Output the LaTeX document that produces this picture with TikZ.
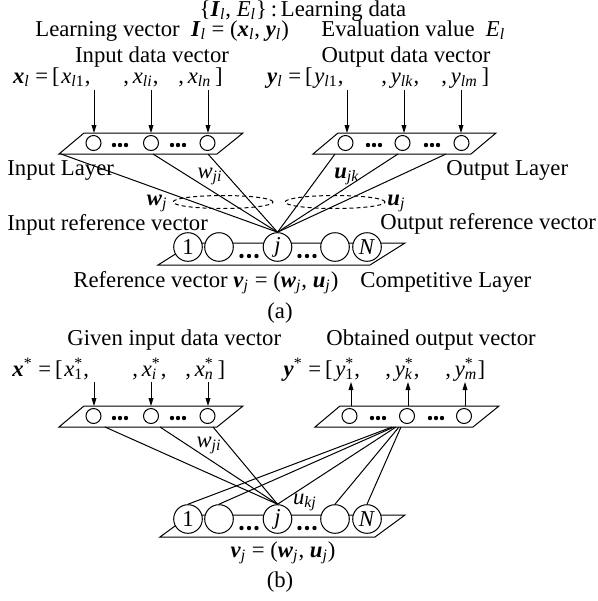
\documentclass[tikz,border=0pt]{standalone}
\usepackage{fontspec}
\setmainfont{Liberation Serif}
\usetikzlibrary{arrows.meta}
\newcommand\bi[1]{\textbf{\textit{#1}}}
\newcommand\sbs[1]{\textsubscript{\textit{#1}}}
\newcommand\stk[2]{\rlap{\textsubscript{#1}}\textsuperscript{#2}}
\newcommand\tridots[3]{\fill (#1-#3,#2) circle (1.1pt) (#1,#2) circle (1.1pt) (#1+#3,#2) circle (1.1pt);}
\begin{document}
\begin{tikzpicture}[x=0.5pt,y=-0.5pt,
  every node/.style={font=\fontsize{11.35pt}{13pt}\selectfont, inner sep=0pt},
  lay/.style={line width=0.5pt},
  conn/.style={line width=0.5pt},
  lcirc/.style={circle, draw, line width=0.5pt, fill=white, minimum size=7.5pt, inner sep=0pt},
  ccirc/.style={circle, draw, line width=0.5pt, fill=white, minimum size=14.3pt, inner sep=0pt},
  arr/.style={-{Triangle[length=4pt,width=2.4pt]}, line width=0.5pt},
  ell/.style={dash pattern=on 2pt off 1.5pt, line width=0.5pt},
  tl/.style={anchor=base west},
  tr/.style={anchor=base east},
  tc/.style={anchor=base}]
\useasboundingbox (0,0) rectangle (598,601);

% ---------------- (a) texts ----------------
\node[tc] (title) at (303,16) {\{\bi{I}\sbs{l}, \textit{E}\sbs{l}\}\,:\,Learning data};
\node[tl] (lv) at (35,36) {Learning vector \ \bi{I}\sbs{l} = (\bi{x}\sbs{l}, \bi{y}\sbs{l})};
\node[tl] (ev) at (321,36) {Evaluation value \ \textit{E}\sbs{l}};
\node[tc] (idv) at (152,62) {Input data vector};
\node[tc] (odv) at (406,62) {Output data vector};

\node[tr] (xl0) at (60,83) {\bi{x}\sbs{l} =\,[};
\node[tl] (xl1) at (61,83) {\textit{x}\textsubscript{\textit{l}1},};
\node[tl] (xl2) at (123,83) {,\,\textit{x}\sbs{li},};
\node[tl] (xl3) at (178,83) {,\,\textit{x}\sbs{ln}\,]};
\node[tr] (yl0) at (313,83) {\bi{y}\sbs{l} =\,[};
\node[tl] (yl1) at (314,83) {\textit{y}\textsubscript{\textit{l}1},};
\node[tl] (yl2) at (381,83) {,\,\textit{y}\sbs{lk},};
\node[tl] (yl3) at (441,83) {,\,\textit{y}\sbs{lm}\,]};

% arrows (a)
\foreach \x [count=\i] in {94,151,208} {
  \coordinate (ai\i) at (\x,90); \coordinate (bi\i) at (\x,133);
  \draw[arr] (ai\i) -- (bi\i);}
\foreach \x [count=\i] in {347,404,461} {
  \coordinate (ao\i) at (\x,90); \coordinate (bo\i) at (\x,133);
  \draw[arr] (ao\i) -- (bo\i);}

% input layer (a)
\coordinate (ia-bl) at (59,154); \coordinate (ia-br) at (217,154);
\coordinate (ia-tr) at (243,133); \coordinate (ia-tl) at (84,133);
\draw[lay] (ia-bl) -- (ia-br) -- (ia-tr) -- (ia-tl) -- cycle;
% output layer (a)
\coordinate (oa-bl) at (313,154); \coordinate (oa-br) at (471,154);
\coordinate (oa-tr) at (496,133); \coordinate (oa-tl) at (338,133);
\draw[lay] (oa-bl) -- (oa-br) -- (oa-tr) -- (oa-tl) -- cycle;

\node[lcirc] (ia1) at (93.5,143) {};
\node[lcirc] (ia2) at (151,143) {};
\node[lcirc] (ia3) at (207.5,143) {};
\node[lcirc] (oa1) at (345.5,143) {};
\node[lcirc] (oa2) at (402.5,143) {};
\node[lcirc] (oa3) at (461.5,143) {};
\tridots{120}{145}{6}
\tridots{178}{145}{6}
\tridots{374}{145}{6}
\tridots{432}{145}{6}

% competitive layer (a)
\coordinate (ca-bl) at (158,265); \coordinate (ca-br) at (370,265);
\coordinate (ca-tr) at (405,243); \coordinate (ca-tl) at (193,243);
\draw[lay] (ca-bl) -- (ca-br) -- (ca-tr) -- (ca-tl) -- cycle;
\tridots{249}{256}{7.5}
\tridots{307}{256}{7.5}
\node[ccirc] (ca1) at (188,247) {1};
\node[ccirc] (ca2) at (219,247) {};
\node[ccirc] (caj) at (277.5,247) {\textit{j}};
\node[ccirc] (ca4) at (335,247) {};
\node[ccirc] (caN) at (367,247) {\textit{N}};

% connections (a)
\coordinate (ib1) at (61,154); \coordinate (ib2) at (153,154); \coordinate (ib3) at (208,154);
\coordinate (ob1) at (335,154); \coordinate (ob2) at (398,154); \coordinate (ob3) at (446,154);
\foreach \c in {ib1,ib2,ib3,ob1,ob2,ob3} \draw[conn] (\c) -- (caj.north);

% dashed ellipses
\draw[ell] (223,202) ellipse [x radius=25pt, y radius=3.25pt];
\draw[ell] (335,202) ellipse [x radius=25pt, y radius=3.25pt];

\node[tl] (inl) at (7,175) {Input Layer};
\node[tl] (outl) at (446,175) {Output Layer};
\node[tc] (wji) at (210,178) {\textit{w}\sbs{ji}};
\node[tc] (ujk) at (347,178) {\bi{u}\sbs{jk}};
\node[tr] (wj) at (168,205) {\bi{w}\sbs{j}};
\node[tl] (uj) at (387,205) {\bi{u}\sbs{j}};
\node[tl] (irv) at (7,230) {Input reference vector};
\node[tl] (orv) at (380,229) {Output reference vector};
\node[tl] (rv) at (73,287) {Reference vector \bi{v}\sbs{j} = (\bi{w}\sbs{j}, \bi{u}\sbs{j})};
\node[tl] (cl) at (360,287) {Competitive Layer};
\node[tc] (la) at (280,318) {(a)};

% ---------------- (b) ----------------
\node[tl] (gidv) at (67,345) {Given input data vector};
\node[tl] (oov) at (326,345) {Obtained output vector};

\node[tr] (xs0) at (63,376) {\bi{x}\textsuperscript{*} =\,[};
\node[tl] (xs1) at (64,376) {\textit{x}\stk{1}{*},};
\node[tl] (xs2) at (132,376) {,\,\textit{x}\stk{\textit{i}}{*},};
\node[tl] (xs3) at (185,376) {,\,\textit{x}\stk{\textit{n}}{*}\,]};
\node[tr] (ys0) at (333,376) {\bi{y}\textsuperscript{*} =\,[};
\node[tl] (ys1) at (335,376) {\textit{y}\stk{1}{*},};
\node[tl] (ys2) at (385,376) {,\,\textit{y}\stk{\textit{k}}{*},};
\node[tl] (ys3) at (445,376) {,\,\textit{y}\stk{\textit{m}}{*}\,]};

\foreach \x [count=\i] in {94,151,208} {
  \coordinate (bai\i) at (\x,382); \coordinate (bbi\i) at (\x,406);
  \draw[arr] (bai\i) -- (bbi\i);}
\foreach \x [count=\i] in {351,408,465} {
  \coordinate (bao\i) at (\x,382); \coordinate (bbo\i) at (\x,406);
  \draw[arr] (bbo\i) -- (bao\i);}

\coordinate (ib-bl) at (59,427); \coordinate (ib-br) at (217,427);
\coordinate (ib-tr) at (243,406); \coordinate (ib-tl) at (84,406);
\draw[lay] (ib-bl) -- (ib-br) -- (ib-tr) -- (ib-tl) -- cycle;
\coordinate (ob-bl) at (315,427); \coordinate (ob-br) at (473,427);
\coordinate (ob-tr) at (499,406); \coordinate (ob-tl) at (340,406);
\draw[lay] (ob-bl) -- (ob-br) -- (ob-tr) -- (ob-tl) -- cycle;

\node[lcirc] (ib1c) at (93.5,416) {};
\node[lcirc] (ib2c) at (151,416) {};
\node[lcirc] (ib3c) at (207.5,416) {};
\node[lcirc] (ob1c) at (349.5,416) {};
\node[lcirc] (ob2c) at (407,416) {};
\node[lcirc] (ob3c) at (464,416) {};
\tridots{120}{418}{6}
\tridots{178}{418}{6}
\tridots{378}{418}{6}
\tridots{436}{418}{6}

\coordinate (cb-bl) at (160,537); \coordinate (cb-br) at (375,537);
\coordinate (cb-tr) at (405,515); \coordinate (cb-tl) at (190,515);
\draw[lay] (cb-bl) -- (cb-br) -- (cb-tr) -- (cb-tl) -- cycle;
\tridots{249}{528}{7.5}
\tridots{307}{528}{7.5}

\coordinate (bib1) at (105,427); \coordinate (bib2) at (160,427); \coordinate (bib3) at (213,427);
\coordinate (fan1) at (392,427); \coordinate (fan2) at (394,427); \coordinate (fan3) at (396,427);
\coordinate (fan4) at (399,427); \coordinate (fan5) at (401,427);

\node[ccirc] (cb1) at (188,519) {1};
\node[ccirc] (cb2) at (219,519) {};
\node[ccirc] (cbj) at (277.5,519) {\textit{j}};
\node[ccirc] (cb4) at (335,519) {};
\node[ccirc] (cbN) at (367,519) {\textit{N}};

\foreach \c in {bib1,bib2,bib3} \draw[conn] (\c) -- (cbj.north);
\draw[conn] (fan1) -- (cb1.north);
\draw[conn] (fan2) -- (cb2.north);
\draw[conn] (fan3) -- (cbj.north);
\draw[conn] (fan4) -- (cb4.north);
\draw[conn] (fan5) -- (cbN.north);

\node[tc] (bwji) at (209,447) {\textit{w}\sbs{ji}};
\node[tc] (bukj) at (305,504) {\textit{u}\sbs{kj}};
\node[tc] (bvj) at (283,557) {\bi{v}\sbs{j} = (\bi{w}\sbs{j}, \bi{u}\sbs{j})};
\node[tc] (lb) at (280,587) {(b)};
\end{tikzpicture}
\end{document}
